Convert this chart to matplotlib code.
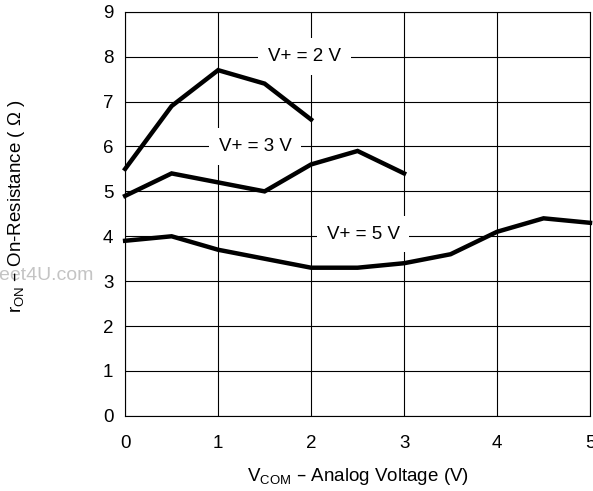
import matplotlib.pyplot as plt
import numpy as np

plt.rcParams['font.family'] = ['Liberation Sans', 'DejaVu Sans']

x2 = [0, 0.5, 1, 1.5, 2]
r2 = [5.5, 6.9, 7.7, 7.4, 6.6]
x3 = [0, 0.5, 1, 1.5, 2, 2.5, 3]
r3 = [4.9, 5.4, 5.2, 5.0, 5.6, 5.9, 5.4]
x5 = [0, 0.5, 1, 1.5, 2, 2.5, 3, 3.5, 4, 4.5, 5]
r5 = [3.9, 4.0, 3.7, 3.5, 3.3, 3.3, 3.4, 3.6, 4.1, 4.4, 4.3]

fs = 13.5

fig = plt.figure(figsize=(5.93, 4.91), dpi=100)
ax = fig.add_axes([0.211, 0.153, 0.784, 0.823])

for xs, ys in [(x2, r2), (x3, r3), (x5, r5)]:
    ax.plot(xs, ys, color='black', lw=3.2, solid_joinstyle='miter', clip_on=False, zorder=3)

ax.set_xlim(0, 5)
ax.set_ylim(0, 9)
ax.set_xticks(np.arange(0, 6))
ax.set_yticks(np.arange(0, 10))
ax.grid(True, color='black', lw=0.8)
ax.tick_params(length=0, labelsize=fs)
ax.tick_params(axis='x', pad=14)
ax.tick_params(axis='y', pad=8.5)
for s in ax.spines.values():
    s.set_linewidth(0.8)

box = dict(facecolor='white', edgecolor='none', pad=7)
ax.text(1.93, 8, 'V+ = 2 V', ha='center', va='center', fontsize=fs, bbox=box, zorder=4)
ax.text(1.4, 6, 'V+ = 3 V', ha='center', va='center', fontsize=fs, bbox=box, zorder=4)
ax.text(2.56, 4.05, 'V+ = 5 V', ha='center', va='center', fontsize=fs, bbox=box, zorder=4)

# faint watermark at the left edge
fig.text(0.157, 0.438, 'www.DataSheet4U.com', ha='right', va='center', fontsize=14, color='#c4c4c4')

ax.set_xlabel(r'V$_\mathregular{COM}$ – Analog Voltage (V)', fontsize=fs, labelpad=10)
fig.text(0.027, 0.58, r'r$_\mathregular{ON}$ – On-Resistance ( Ω )', rotation=90,
         ha='center', va='center', fontsize=fs)

fig.savefig('out.png', dpi=100)
